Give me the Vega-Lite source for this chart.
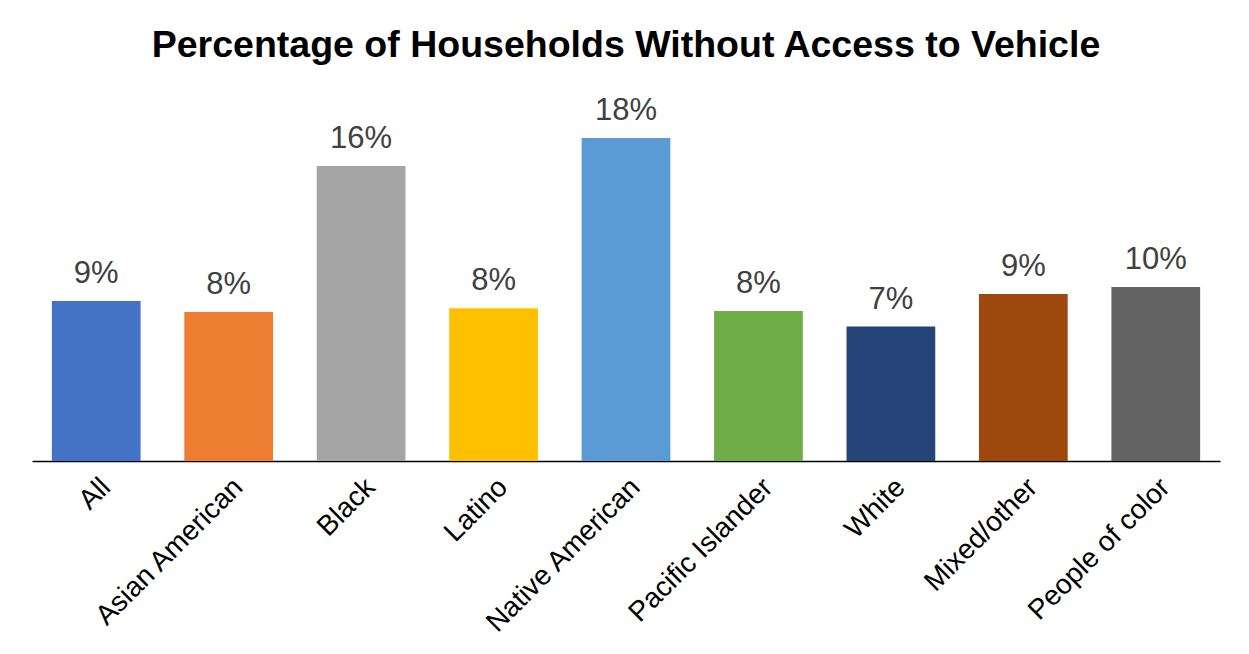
{
  "$schema": "https://vega.github.io/schema/vega-lite/v6.json",
  "width": 1188,
  "height": 361,
  "autosize": {"type": "none"},
  "padding": {"left": 32, "top": 100, "right": 29, "bottom": 193},
  "background": "white",
  "title": {
    "text": "Percentage of Households Without Access to Vehicle",
    "font": "Liberation Sans",
    "fontSize": 37.5,
    "fontWeight": "bold",
    "color": "#000000",
    "anchor": "middle",
    "offset": 31
  },
  "data": {
    "values": [
      {"group": "All", "pct": 0.0886, "color": "#4472C4"},
      {"group": "Asian American", "pct": 0.0825, "color": "#ED7D31"},
      {"group": "Black", "pct": 0.1634, "color": "#A5A5A5"},
      {"group": "Latino", "pct": 0.0846, "color": "#FFC000"},
      {"group": "Native American", "pct": 0.1789, "color": "#5B9BD5"},
      {"group": "Pacific Islander", "pct": 0.0831, "color": "#70AD47"},
      {"group": "White", "pct": 0.0745, "color": "#264478"},
      {"group": "Mixed/other", "pct": 0.0925, "color": "#9E480E"},
      {"group": "People of color", "pct": 0.0964, "color": "#636363"}
    ]
  },
  "encoding": {
    "x": {
      "field": "group",
      "type": "nominal",
      "sort": null,
      "scale": {"paddingInner": 0.33, "paddingOuter": 0.15},
      "axis": {
        "title": null,
        "labelAngle": -45,
        "labelFont": "Liberation Sans",
        "labelFontSize": 28,
        "labelColor": "#000000",
        "labelLimit": 0,
        "ticks": false,
        "tickSize": 0,
        "labelPadding": 12,
        "domainColor": "#000000",
        "domainWidth": 1.5
      }
    },
    "y": {
      "field": "pct",
      "type": "quantitative",
      "scale": {"domain": [0, 0.2]},
      "axis": null
    }
  },
  "layer": [
    {
      "mark": {"type": "bar"},
      "encoding": {
        "color": {"field": "color", "type": "nominal", "scale": null}
      }
    },
    {
      "mark": {
        "type": "text",
        "font": "Liberation Sans",
        "fontSize": 31,
        "color": "#404040",
        "baseline": "alphabetic",
        "dy": -18
      },
      "encoding": {
        "text": {"field": "pct", "type": "quantitative", "format": ".0%"}
      }
    }
  ],
  "config": {
    "view": {"stroke": null}
  }
}
